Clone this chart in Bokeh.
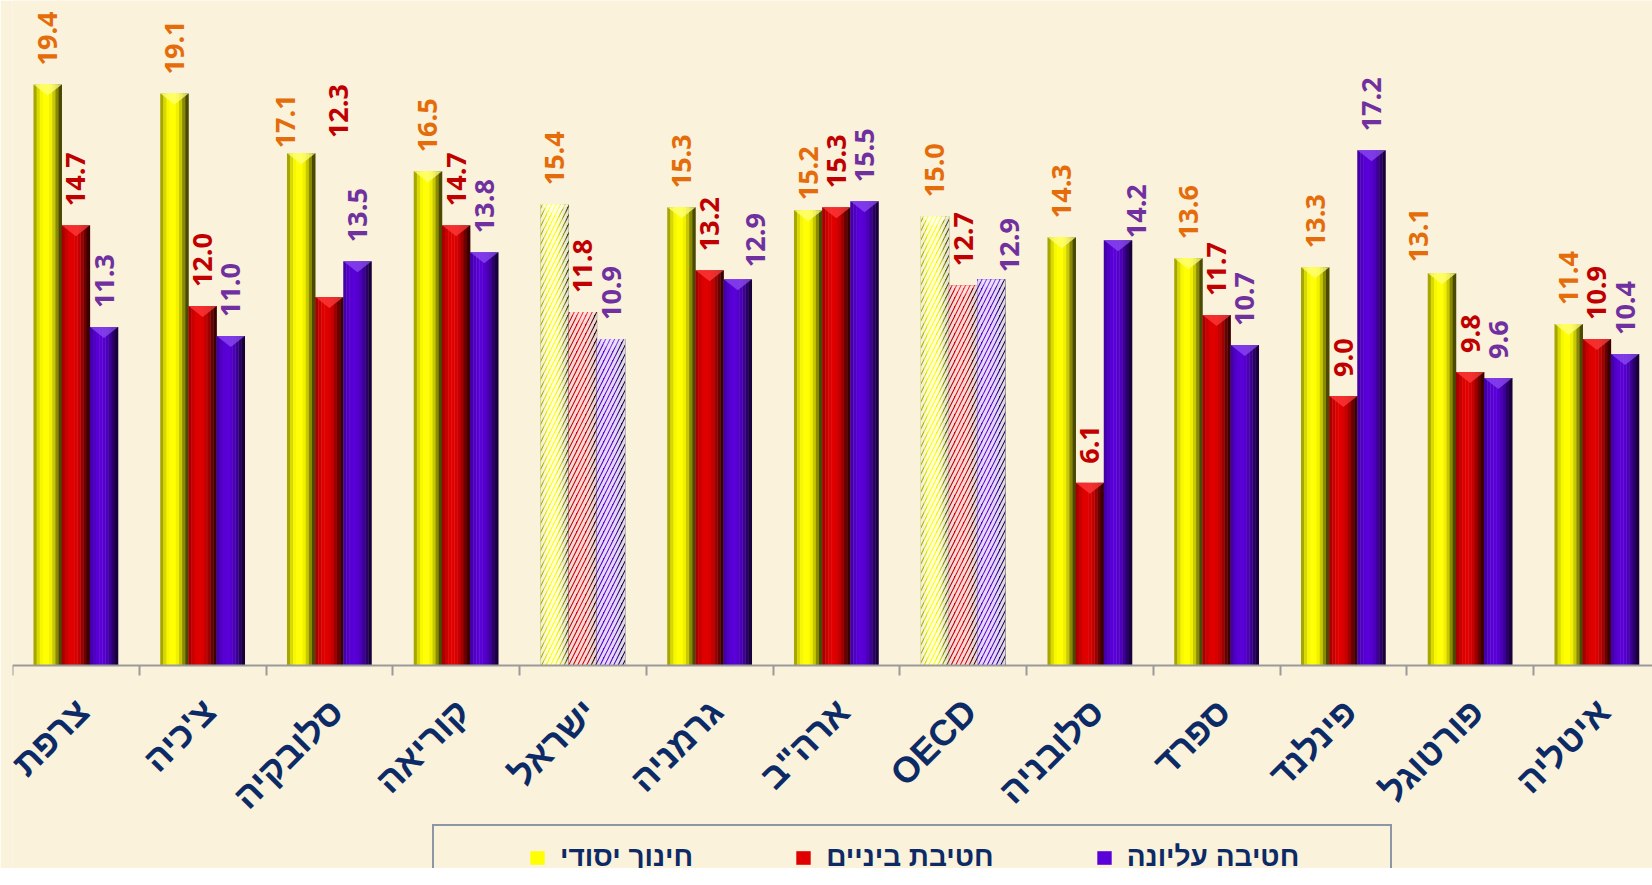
import math
from bokeh.plotting import figure
from bokeh.models import (ColumnDataSource, Range1d, FixedTicker, Legend, LegendItem)
from bokeh.core.properties import value
from bokeh.embed import file_html
from bokeh.resources import INLINE

# ---------------- data ----------------
categories = ["צרפת", "צ'כיה", "סלובקיה", "קוריאה", "ישראל", "גרמניה", 'ארה"ב',
              "OECD", "סלובניה", "ספרד", "פינלנד", "פורטוגל", "איטליה"]
series_names = ["חינוך יסודי", "חטיבת ביניים", "חטיבה עליונה"]
primary = [19.4, 19.1, 17.1, 16.5, 15.4, 15.3, 15.2, 15.0, 14.3, 13.6, 13.3, 13.1, 11.4]
lower_secondary = [14.7, 12.0, 12.3, 14.7, 11.8, 13.2, 15.3, 12.7, 6.1, 11.7, 9.0, 9.8, 10.9]
upper_secondary = [11.3, 11.0, 13.5, 13.8, 10.9, 12.9, 15.5, 12.9, 14.2, 10.7, 17.2, 9.6, 10.4]
hatched_categories = ["ישראל", "OECD"]

series_values = [primary, lower_secondary, upper_secondary]

# ---------------- style ----------------
BG = "#FAF2DA"
NAVY = "#0B2A66"
FRAME_W, FRAME_H = 1640, 868
BASELINE_PX = 665
PX_PER_CAT = 126.75
PX_PER_UNIT = 29.95
BAR_W = 0.222
OFFSETS = [-0.222, 0.0, 0.222]
LABEL_COLORS = ["#E46C0A", "#C00000", "#7030A0"]
GRADIENTS = [
    ["#a6a600", "#d9d900", "#f7f700", "#ffff00", "#ffff00", "#f0f000", "#c8c800", "#8a8a00", "#4a4a00"],
    ["#a80000", "#c80000", "#dc0000", "#e00000", "#d80000", "#c40000", "#9c0000", "#6a0000", "#3a0000"],
    ["#4400a8", "#5000c4", "#5800d4", "#5a00d8", "#5600d0", "#4c00bc", "#3c0096", "#2a0068", "#18003c"],
]
BEVEL_COLORS = ["#ffff80", "#ff3c3c", "#8c4cf2"]
BEVEL_PX = 11
LABEL_TWEAKS = {
    (0, 2): (-16, 5), (0, 6): (0, 10), (0, 11): (-23, 11),
    (1, 2): (9, 159),
    (2, 5): (18, 12), (2, 7): (18, 7), (2, 8): (18, 2),
}
DEFAULT_GAP = 19
CAT_LABEL_DX = 7      # px
CAT_LABEL_DY = 40     # px below the axis line

x_start = -0.5
x_end = x_start + FRAME_W / PX_PER_CAT
y_end = BASELINE_PX / PX_PER_UNIT
y_start = -(FRAME_H - BASELINE_PX) / PX_PER_UNIT

p = figure(frame_width=FRAME_W, frame_height=FRAME_H,
           x_range=Range1d(x_start, x_end), y_range=Range1d(y_start, y_end),
           output_backend="svg", toolbar_location=None, y_axis_location=None,
           min_border_left=12, min_border_right=0, min_border_top=0, min_border_bottom=0,
           background_fill_color=BG, border_fill_color=BG, outline_line_color=None)
p.grid.visible = False

n_slices = len(GRADIENTS[0])
legend_proxies = []
for s, vals in enumerate(series_values):
    for hatched in (False, True):
        idx = [i for i, c in enumerate(categories) if (c in hatched_categories) == hatched]
        xs = [i + OFFSETS[s] for i in idx]
        tops = [vals[i] for i in idx]
        for k, col in enumerate(GRADIENTS[s]):
            sx = [x - BAR_W / 2 + (k + 0.5) * BAR_W / n_slices for x in xs]
            src = ColumnDataSource(dict(x=sx, top=tops))
            r = p.vbar(x="x", top="top", bottom=0, width=BAR_W / n_slices * 1.12,
                       fill_color=col, line_color=None, source=src)
            if not hatched and k == 3:
                legend_proxies.append(r)
        d = BEVEL_PX / PX_PER_UNIT
        bx = [[x - BAR_W / 2, x + BAR_W / 2, x] for x in xs]
        by = [[t, t, t - d] for t in tops]
        p.patches(bx, by, fill_color=BEVEL_COLORS[s], fill_alpha=0.75, line_color=None)
        if hatched:
            p.vbar(x=xs, top=tops, bottom=0, width=BAR_W, fill_alpha=0, line_color=None,
                   hatch_pattern="/", hatch_color="white", hatch_alpha=0.85,
                   hatch_scale=9, hatch_weight=3)

# value labels
for s, vals in enumerate(series_values):
    dxs, offs = [], []
    for i in range(len(categories)):
        dx, gap = LABEL_TWEAKS.get((s, i), (0, DEFAULT_GAP))
        dxs.append(dx)
        offs.append(-gap)
    src = ColumnDataSource(dict(x=[i + OFFSETS[s] for i in range(len(categories))],
                                y=vals, text=[f"{v:.1f}" for v in vals],
                                dx=dxs, dy=offs))
    p.text(x="x", y="y", text="text", source=src, angle=math.pi / 2,
           x_offset="dx", y_offset="dy", text_align="left", text_baseline="middle",
           text_font=value("Open Sans"), text_font_style="bold",
           text_font_size="27px", text_color=LABEL_COLORS[s])

# category axis (line + boundary ticks at y = 0)
ax = p.xaxis[0]
ax.fixed_location = 0
ax.ticker = FixedTicker(ticks=[], minor_ticks=[i - 0.5 for i in range(len(categories) + 1)])
ax.major_tick_line_color = None
ax.major_tick_out = 0
ax.major_tick_in = 0
ax.major_label_standoff = 0
ax.minor_tick_line_color = "#9a9a9a"
ax.minor_tick_line_width = 2
ax.minor_tick_out = 10
ax.minor_tick_in = 0
ax.axis_line_color = "#9a9a9a"
ax.axis_line_width = 2

# category labels, rotated 45 degrees under the axis
cat_src = ColumnDataSource(dict(x=list(range(len(categories))),
                                y=[0] * len(categories), text=categories))
p.text(x="x", y="y", text="text", source=cat_src, angle=math.pi / 4,
       x_offset=CAT_LABEL_DX, y_offset=CAT_LABEL_DY, text_align="right", text_baseline="middle",
       text_font=value("Liberation Sans"), text_font_style="bold",
       text_font_size="36px", text_color=NAVY)

# legend frame
blank = p.vbar(x=[], top=[], width=0.1, fill_alpha=0, line_alpha=0)
box = Legend(items=[LegendItem(label=" ", renderers=[blank])], location=(420, -40),
             orientation="horizontal", glyph_width=1, glyph_height=80, label_width=955,
             label_height=80, label_standoff=0, padding=0, margin=0, spacing=0,
             border_line_color="#1F3A70", border_line_width=2, background_fill_alpha=0)
p.add_layout(box, "center")

items = [LegendItem(label=n, renderers=[r]) for n, r in zip(series_names, legend_proxies)]
leg = Legend(items=items, location=(516, -5), orientation="horizontal",
             glyph_width=18, glyph_height=17, label_standoff=14, spacing=101,
             padding=0, margin=0, border_line_color=None, background_fill_alpha=0,
             label_text_font="Liberation Sans", label_text_font_style="bold",
             label_text_font_size="28px", label_text_color=NAVY)
p.add_layout(leg, "center")

open("out.html", "w").write(file_html(p, INLINE))
